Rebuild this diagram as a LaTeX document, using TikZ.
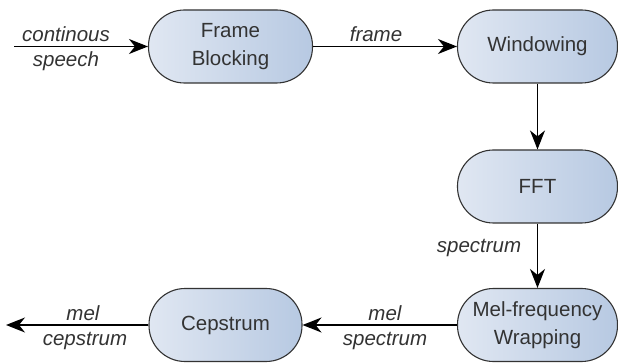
\documentclass[tikz,border=0pt]{standalone}
\usepackage{fontspec}
\setmainfont{Liberation Sans}
\usetikzlibrary{arrows.meta}
\definecolor{boxleft}{HTML}{E0E7F2}
\definecolor{boxright}{HTML}{B7C9E2}
\definecolor{ink}{HTML}{333333}
\tikzset{
  proc/.style={draw=ink, line width=1.1pt, rounded corners=36pt,
    left color=boxleft, right color=boxright,
    minimum width=160pt, minimum height=73pt, inner sep=0pt,
    align=center, text=ink,
    font=\fontsize{20.5}{27.5}\selectfont},
  tip/.tip={Stealth[length=19pt,width=15pt,inset=6pt]},
  flow/.style={draw=black, line width=1.4pt, -tip},
  lbl/.style={font=\fontsize{20.5}{24}\selectfont\itshape, text=ink, inner sep=0pt}
}
\begin{document}
\begin{tikzpicture}[x=1pt,y=-1pt]
  \useasboundingbox (0,0) rectangle (618,363);

  % processing stages
  \node[proc, minimum width=164pt] (fb)  at (230.5,46.5) {Frame\\Blocking};
  \node[proc] (win) at (537.5,46.5) {Windowing};
  \node[proc] (fft) at (537.5,186.5) {FFT};
  \node[proc] (mel) at (537.5,325) {Mel-frequency\\Wrapping};
  \node[proc, minimum width=153pt] (cep) at (225.5,325) {Cepstrum};

  % free ends of the input and output lines
  \coordinate (in)  at (14,46.5);
  \coordinate (out) at (6,325);

  % connectors
  \draw[flow] (in) -- (fb.west);
  \draw[flow] (fb.east) -- (win.west);
  \draw[flow] (win.south) -- (fft.north);
  \draw[flow] (fft.south) -- (mel.north);
  \draw[flow] (mel.west) -- (cep.east);
  \draw[flow] (cep.west) -- (out);

  % connector labels
  \node[lbl, anchor=base] (l1a) at (66,42) {continous};
  \node[lbl, anchor=base] (l1b) at (66,67) {speech};
  \node[lbl, anchor=base] (l2)  at (376,42) {frame};
  \node[lbl, anchor=base] (l3)  at (479,253) {spectrum};
  \node[lbl, anchor=base] (l4a) at (385,320) {mel};
  \node[lbl, anchor=base] (l4b) at (385,345) {spectrum};
  \node[lbl, anchor=base] (l5a) at (83,320) {mel};
  \node[lbl, anchor=base] (l5b) at (85,345) {cepstrum};
\end{tikzpicture}
\end{document}
